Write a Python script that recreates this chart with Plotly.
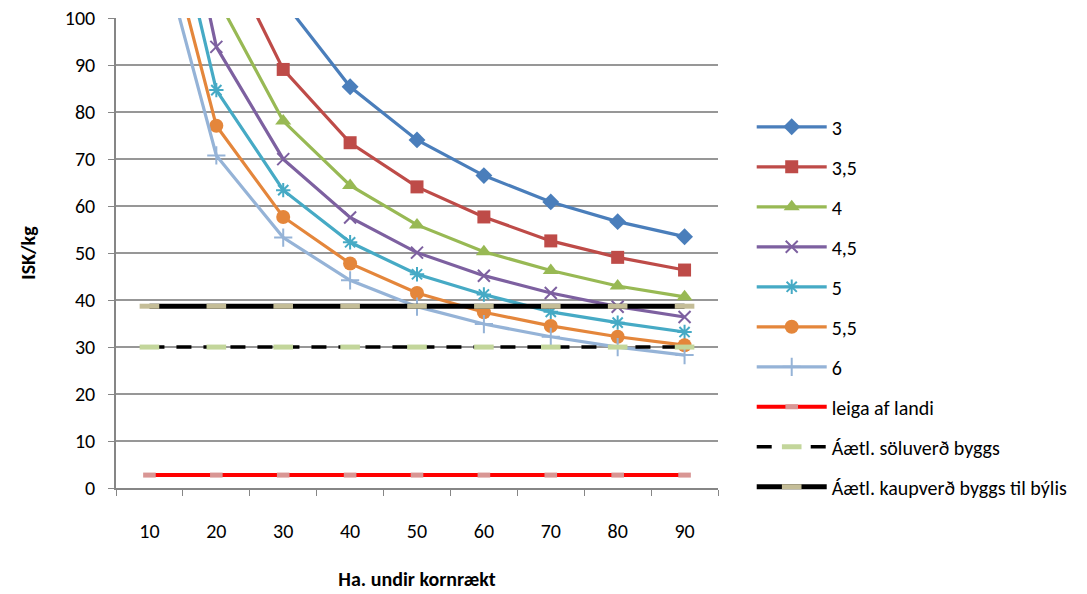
import plotly.graph_objects as go

ha = [10, 20, 30, 40, 50, 60, 70, 80, 90]

y3 = [247, 139.5, 103.7, 85.4, 74.1, 66.5, 60.9, 56.7, 53.5]
y35 = [210, 117.9, 89.1, 73.5, 64.1, 57.7, 52.6, 49.1, 46.4]
y4 = [185, 104.6, 78.1, 64.4, 56.0, 50.3, 46.3, 43.0, 40.7]
y45 = [160, 93.9, 70.0, 57.6, 50.1, 45.2, 41.5, 38.6, 36.4]
y5 = [145, 84.7, 63.4, 52.3, 45.5, 41.2, 37.5, 35.2, 33.2]
y55 = [132, 77.1, 57.7, 47.8, 41.5, 37.4, 34.5, 32.2, 30.4]
y6 = [124, 70.8, 53.3, 44.2, 38.6, 34.9, 32.2, 30.0, 28.3]
leiga = [2.75] * 9
soluverd = [30] * 9
kaupverd = [38.7] * 9

names = ["3", "3,5", "4", "4,5", "5", "5,5", "6",
         "leiga af landi", "Áætl. söluverð byggs", "Áætl. kaupverð byggs til býlis"]

FONT = "Carlito, Calibri, 'Noto Sans', sans-serif"

fig = go.Figure()

curve_specs = [
    (y3, "#4A7EBB", dict(symbol="diamond", size=13)),
    (y35, "#BE4B48", dict(symbol="square", size=13)),
    (y4, "#98B954", dict(symbol="triangle-up", size=14)),
    (y45, "#7D60A0", dict(symbol="x-thin-open", size=12, line=dict(width=2, color="#7D60A0"))),
    (y5, "#46AAC5", dict(symbol="asterisk-open", size=12, line=dict(width=2, color="#46AAC5"))),
    (y55, "#E4863B", dict(symbol="circle", size=14)),
    (y6, "#95B3D7", dict(symbol="cross-thin-open", size=13, line=dict(width=2, color="#95B3D7"))),
]
for i, (ys, col, mk) in enumerate(curve_specs):
    mk = dict(mk)
    mk.setdefault("color", col)
    fig.add_trace(go.Scatter(
        x=ha, y=ys, name=names[i], mode="lines+markers",
        line=dict(color=col, width=3.2), marker=mk, legendgroup=names[i]))

flat_specs = [
    (leiga, dict(color="#FF0000", width=4), "#D99694", 9),
    (soluverd, dict(color="#000000", width=3.5, dash="15px,12px"), "#C3D69B", 14),
    (kaupverd, dict(color="#000000", width=5), "#C4BD97", 14),
]
for j, (ys, ln, mcol, ms) in enumerate(flat_specs):
    nm = names[7 + j]
    fig.add_trace(go.Scatter(
        x=ha, y=ys, name=nm, mode="lines+markers", line=ln,
        marker=dict(symbol="line-ew-open", size=ms, color=mcol,
                    line=dict(width=5, color=mcol)),
        legendgroup=nm))

fig.update_layout(
    width=1087, height=594,
    margin=dict(l=116, r=369, t=18, b=106, autoexpand=False),
    paper_bgcolor="white", plot_bgcolor="white",
    font=dict(family=FONT, size=20, color="black"),
    showlegend=True,
    legend=dict(x=1.056, xanchor="left", y=0.81, yanchor="top",
                font=dict(family=FONT, size=20, color="black"),
                itemwidth=70, tracegroupgap=11, bgcolor="rgba(0,0,0,0)"),
    xaxis=dict(range=[5, 95], tickvals=ha, ticktext=[str(v) for v in ha],
               showgrid=False, zeroline=False, showline=True, automargin=False,
               linecolor="#868686", linewidth=1.5, ticks="",
               ticklabelstandoff=24,
               minor=dict(tickvals=[5, 15, 25, 35, 45, 55, 65, 75, 85, 95],
                          ticks="outside", ticklen=6, tickcolor="#868686",
                          showgrid=False),
               title=dict(text="<b>Ha. undir kornrækt</b>", standoff=30,
                          font=dict(size=20))),
    yaxis=dict(range=[0, 100.05], tickvals=[0, 10, 20, 30, 40, 50, 60, 70, 80, 90, 100],
               showgrid=True, gridcolor="#979797", ticklabeloverflow="allow",
               gridwidth=1.5, zeroline=False, showline=True, automargin=False,
               linecolor="#868686", linewidth=1.5, ticks="outside",
               ticklen=6, tickcolor="#868686", ticklabelstandoff=9,
               title=dict(text="<b>ISK/kg</b>", standoff=24,
                          font=dict(size=20))),
)

# remove the browser's default 8px page margin so the figure sits at the page origin
fig.write_html("out.html",
               config={"displayModeBar": False},
               post_script="document.body.style.margin='0';document.body.style.overflow='hidden';")
